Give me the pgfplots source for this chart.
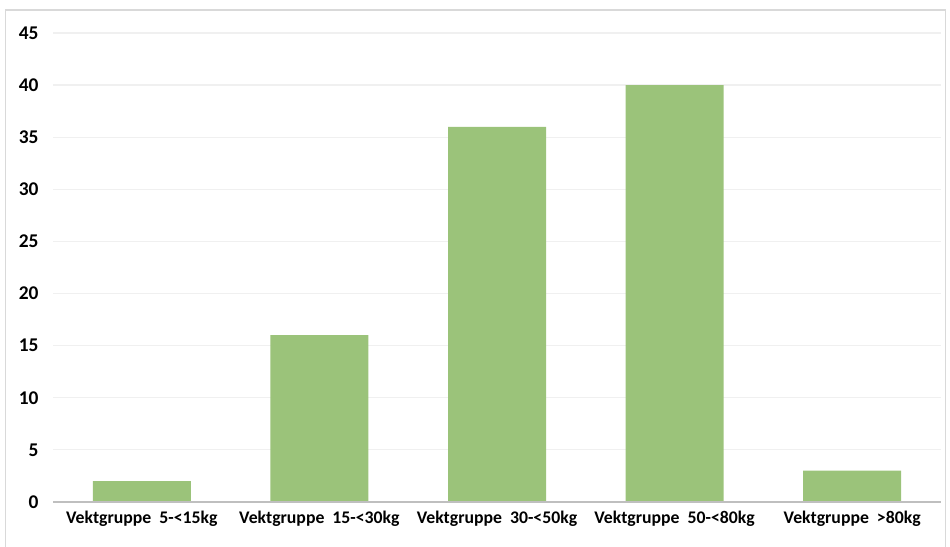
\documentclass[border=0pt]{standalone}
\usepackage{pgfplots}
\pgfplotsset{compat=1.18}
\usepackage{fontspec}
\setmainfont{Carlito}
\definecolor{barGreen}{RGB}{155,195,122}
\definecolor{gridGrey}{RGB}{240,240,240}
\definecolor{baseGrey}{RGB}{191,191,191}
\definecolor{frameGrey}{RGB}{217,217,217}
\begin{document}
\begin{tikzpicture}[x=1bp,y=1bp]
\path[use as bounding box] (0,0) rectangle (950,547);
% outer chart frame
\draw[frameGrey, line width=1.5bp] (5.5,-10) rectangle (945.5,537);
\begin{axis}[
  at={(53bp,45bp)}, anchor=south west,
  scale only axis, width=888bp, height=469bp,
  xmin=-0.5, xmax=4.5, ymin=0, ymax=45,
  axis line style={draw=none},
  axis x line*=bottom, axis y line*=left,
  xtick=data,
  xticklabels={Vektgruppe\ \ 5-<15kg, Vektgruppe\ \ 15-<30kg, Vektgruppe\ \ 30-<50kg, Vektgruppe\ \ 50-<80kg, Vektgruppe\ \ >80kg},
  ytick={0,5,...,45},
  major tick length=0pt,
  ymajorgrids, grid style={gridGrey, line width=1.2bp},
  tick label style={font=\fontsize{17.8}{20}\selectfont\bfseries},
  /pgf/number format/assume math mode=true,
  yticklabel style={xshift=-11bp, font=\fontsize{19.5}{22}\selectfont\bfseries},
  xticklabel style={yshift=-6bp},
  clip=false,
]
\addplot[ybar, bar width=98bp, fill=barGreen, draw=none]
  coordinates {(0,2) (1,16) (2,36) (3,40) (4,3)};
\draw[baseGrey, line width=1.8bp] (axis cs:-0.5,0) -- (axis cs:4.5,0);
\end{axis}
\end{tikzpicture}
\end{document}
